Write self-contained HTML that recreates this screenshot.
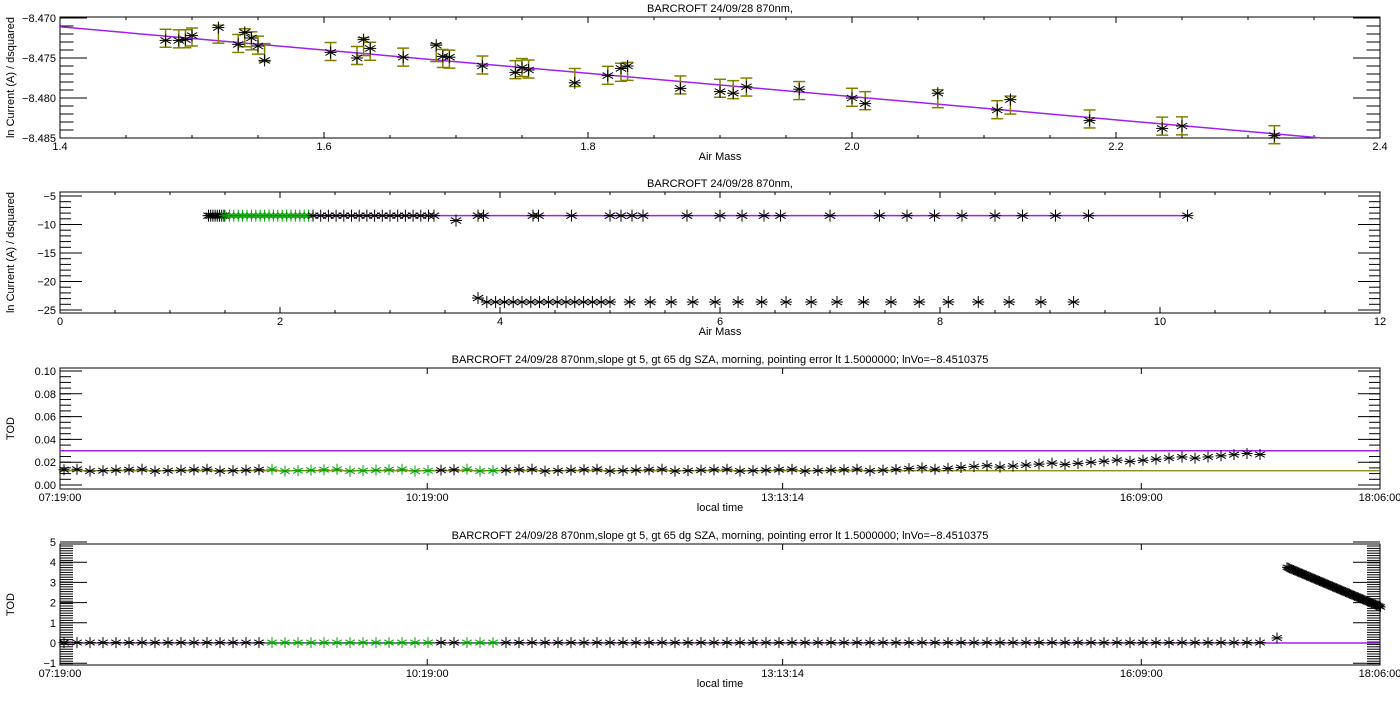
<!DOCTYPE html>
<html><head><meta charset="utf-8"><style>
body{margin:0;background:#fff;width:1400px;height:700px;overflow:hidden}
svg text{font-family:"Liberation Sans",sans-serif;font-size:11px;fill:#000}
</style></head><body>
<svg id="s" width="1400" height="700" xmlns="http://www.w3.org/2000/svg"></svg>
<script>
const S=document.getElementById('s');let h='';
function L(x1,y1,x2,y2,c,w){h+=`<line x1="${x1}" y1="${y1}" x2="${x2}" y2="${y2}" stroke="${c||'#000'}" stroke-width="${w||1}"/>`;}
function T(x,y,t,a,rot){h+=`<text x="${x}" y="${y}" text-anchor="${a||'middle'}"${rot?` transform="rotate(-90 ${x} ${y})"`:''}>${t}</text>`;}
function star(x,y,c,r){r=r||6;c=c||'#000';for(let k=0;k<3;k++){const a=k*Math.PI/3+Math.PI/2;L(x-r*Math.cos(a),y-r*Math.sin(a),x+r*Math.cos(a),y+r*Math.sin(a),c);}L(x-r,y,x+r,y,c);}
const X0=60,X1=1380;
function box(t,b,title,ylab,yt,yminor,xt,xlab,maj){
 h+=`<rect x="${X0}" y="${t}" width="${X1-X0}" height="${b-t}" fill="none" stroke="#000"/>`;
 T(720,t-5,title);T(14,(t+b)/2,ylab,'middle',1);
 yt.forEach(([y,l])=>{L(X0,y,X0+maj,y);L(X1,y,X1-maj,y);T(X0-4,y+4,l,'end');});
 yminor.forEach(y=>{L(X0,y,X0+maj/2,y);L(X1,y,X1-maj/2,y);});
 xt.forEach(([x,l,m])=>{L(x,b,x,b-(m?3:6));L(x,t,x,t+(m?3:6));if(l)T(x,b+12,l);});
 T(720,b+22,xlab);
}
// Panel 1
{const t=17,b=138;const px=a=>X0+(a-1.4)*1320,py=v=>18+(-8.470-v)*8000;
const yt=[[-8.470,'−8.470'],[-8.475,'−8.475'],[-8.480,'−8.480'],[-8.485,'−8.485']].map(([v,l])=>[py(v),l]);
const ym=[];for(let v=-8.470;v>-8.4856;v-=0.001)ym.push(py(v));
const xt=[];for(let i=0;i<=20;i++){const a=1.4+i*0.05;xt.push([px(a),i%4==0?a.toFixed(1):'',i%4!=0]);}
box(t,b,'BARCROFT 24/09/28 870nm,','ln Current (A) / dsquared',yt,ym,xt,'Air Mass',27);
const fit=a=>-8.4711-(a-1.4)*0.01454;
L(px(1.4),py(fit(1.4)),px(2.3545),py(fit(2.3545)),'#a020f0',1.5);
const d=[[1.48,-8.4728],[1.49,-8.4728],[1.495,-8.4727],[1.50,-8.4722],[1.52,-8.4712],[1.535,-8.4733],[1.54,-8.4718],[1.545,-8.4725],[1.55,-8.4735],[1.555,-8.4753],[1.605,-8.4743],[1.625,-8.475],[1.63,-8.4727],[1.635,-8.4738],[1.66,-8.4749],[1.685,-8.4734],[1.69,-8.4748],[1.695,-8.4749],[1.72,-8.476],[1.745,-8.4768],[1.75,-8.4762],[1.755,-8.4765],[1.79,-8.4781],[1.815,-8.4772],[1.825,-8.4763],[1.83,-8.4760],[1.87,-8.4788],[1.90,-8.4792],[1.91,-8.4794],[1.92,-8.4786],[1.96,-8.4789],[2.0,-8.4800],[2.01,-8.4807],[2.065,-8.4794],[2.11,-8.4815],[2.12,-8.4802],[2.18,-8.4828],[2.235,-8.4838],[2.25,-8.4835],[2.32,-8.4847]];
d.forEach(([a,v])=>{const x=px(a),y=py((v+fit(a))/2);const e=9;L(x,y-e,x,y+e,'#808000',1.5);L(x-6,y-e,x+6,y-e,'#808000',1.5);L(x-6,y+e,x+6,y+e,'#808000',1.5);});
d.forEach(([a,v])=>star(px(a),py(v)));}
// Panel 2
{const t=192,b=313;const px=a=>X0+a*110,py=v=>196+(-5-v)*5.7;
const yt=[-5,-10,-15,-20,-25].map(v=>[py(v),'−'+(-v)]);const ym=[];for(let v=-5;v>=-25;v-=1)ym.push(py(v));
const xt=[];for(let i=0;i<=24;i++)xt.push([px(i*0.5),i%4==0?String(i/2):'',i%4!=0]);
box(t,b,'BARCROFT 24/09/28 870nm,','ln Current (A) / dsquared',yt,ym,xt,'Air Mass',22);
L(px(1.35),py(-8.45),px(10.25),py(-8.45),'#a020f0',1.5);
const top=[];for(let a=1.35;a<1.5;a+=0.02)top.push(a);for(let a=1.5;a<2.3;a+=0.04)top.push(a);for(let a=2.3;a<3.4;a+=0.07)top.push(a);
[3.4,3.6,3.8,3.85,4.3,4.35,4.65,5.0,5.1,5.2,5.3,5.7,6.0,6.2,6.4,6.55,7.0,7.45,7.7,7.95,8.2,8.5,8.75,9.05,9.35,10.25].forEach(a=>top.push(a));
top.forEach(a=>star(px(a),py(a>3.55&&a<3.65?-9.3:-8.45),a>=1.5&&a<2.3?'#00a000':'#000'));
const bot=[];for(let a=3.8;a<5;a+=0.08)bot.push(a);for(let a=5;a<9.5;a+=0.18+(a-5)*0.03)bot.push(a);
bot.forEach((a,i)=>star(px(a),py(i==0?-22.9:-23.6)));}
const tx=(m)=>X0+m*1320/647;
function timeTicks(){return [[tx(0),'07:19:00'],[tx(180),'10:19:00'],[tx(354.2),'13:13:14'],[tx(530),'16:09:00'],[tx(647),'18:06:00']];}
// Panel 3
{const t=368,b=489;const py=v=>485-v*1140;
const yt=[0,0.02,0.04,0.06,0.08,0.10].map(v=>[py(v),v.toFixed(2)]);const ym=[];for(let v=0;v<=0.1001;v+=0.005)ym.push(py(v));
box(t,b,'BARCROFT 24/09/28 870nm,slope gt 5, gt 65 dg SZA, morning, pointing error lt 1.5000000; lnVo=−8.4510375','TOD',yt,ym,timeTicks(),'local time',22);
L(X0,py(0.03),X1,py(0.03),'#a020f0',1.5);L(X0,py(0.0125),X1,py(0.0125),'#808000',1.2);
for(let x=64;x<1272;x+=13){let v=0.013+(x>850?Math.pow((x-850)/420,1.4)*0.015:0)+((x*7)%5-2)*0.0004;
const g=(x>270&&x<440)||(x>455&&x<500);star(x,py(v),g?'#00a000':'#000',5.5);}}
// Panel 4
{const t=544,b=665;const py=v=>643-v*20.2;
const yt=[-1,0,1,2,3,4,5].map(v=>[py(v),v<0?'−1':String(v)]);
box(t,b,'BARCROFT 24/09/28 870nm,slope gt 5, gt 65 dg SZA, morning, pointing error lt 1.5000000; lnVo=−8.4510375','TOD',yt,[],timeTicks(),'local time',27);
for(let y=t+2;y<b;y+=2.4){L(X0,y,X0+13,y);L(X1,y,X1-13,y);}
L(X0,py(0),X1,py(0),'#a020f0',1.5);
for(let x=64;x<1272;x+=13){const g=(x>270&&x<440)||(x>455&&x<500);star(x,py(0.02),g?'#00a000':'#000',5.5);}
star(1277,py(0.25),'#000',5.5);
for(let x=1287;x<1381;x+=1.3){const v=3.75-(x-1287)/93*1.95;star(x,py(v),'#000',5);}}
S.innerHTML=h;
</script>
</body></html>
